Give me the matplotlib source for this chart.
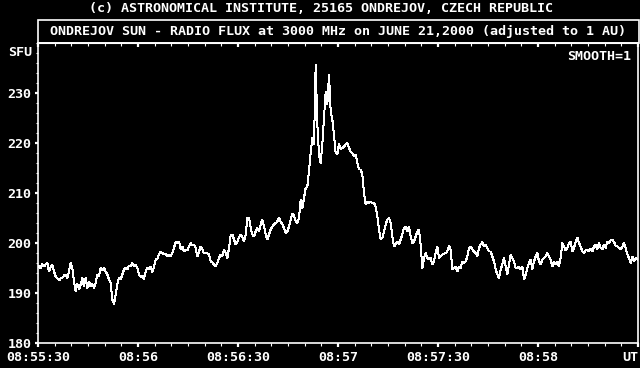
import numpy as np
import matplotlib
matplotlib.use("Agg")
import matplotlib.pyplot as plt
from matplotlib.patches import Rectangle
from matplotlib.ticker import MultipleLocator

# ---- data (SFU), sampled every 0.5 s starting 0.3 s after 08:55:30 ----
flux_1 = [195.3, 195.0, 195.8, 195.3, 195.7, 196.0, 194.3, 195.1, 195.7, 194.3,
          193.3, 193.0, 192.5, 192.9, 193.0, 193.5, 193.7, 193.0, 194.3, 196.0,
          195.0, 192.3, 190.3, 191.9, 190.7, 191.7, 193.0, 191.3, 193.1, 191.0,
          192.3, 191.3, 191.8, 191.0, 192.0, 193.7, 193.3, 195.0, 194.5, 195.0,
          194.3, 193.7, 192.7, 192.0, 188.7, 187.8, 189.7, 191.7, 193.0, 192.7,
          193.7, 194.7, 195.1, 194.7, 195.5, 195.3, 196.0, 195.3, 195.7, 195.0]
flux_2 = [193.7, 193.2, 193.5, 192.8, 194.3, 195.0, 194.7, 195.3, 194.1, 195.3,
          196.7, 196.8, 197.7, 198.3, 198.0, 197.7, 197.9, 197.3, 197.7, 197.3,
          198.0, 199.0, 200.3, 200.0, 200.3, 198.7, 199.3, 198.3, 198.7, 198.5,
          199.3, 200.0, 199.5, 199.7, 199.0, 197.3, 198.3, 199.3, 198.7, 197.9,
          198.0, 197.9, 197.7, 196.3, 196.1, 195.7, 195.3, 196.0, 197.0, 197.7,
          197.3, 198.7, 198.0, 197.0, 199.0, 201.5, 201.7, 200.7, 199.7, 200.3]
flux_3 = [201.1, 201.7, 201.1, 200.3, 201.7, 205.0, 205.1, 203.0, 201.7, 201.3,
          202.3, 203.0, 202.3, 203.7, 204.7, 203.3, 201.7, 200.7, 201.7, 202.7,
          203.3, 203.7, 204.0, 204.3, 205.1, 204.3, 203.7, 203.0, 202.0, 202.3,
          203.3, 204.7, 205.8, 205.5, 204.3, 204.0, 205.0, 208.7, 207.0, 209.0,
          211.0, 211.3, 214.3, 218.0, 221.0, 219.7, 235.7, 223.7, 217.7, 216.0,
          219.7, 225.0, 230.3, 227.7, 233.7, 226.3, 224.7, 221.7, 218.0, 217.7]
flux_4 = [219.9, 218.7, 219.0, 219.3, 219.7, 220.0, 219.0, 218.3, 218.0, 217.3,
          217.7, 216.0, 214.7, 214.7, 213.7, 210.0, 207.7, 208.3, 208.0, 208.3,
          208.0, 208.0, 207.3, 205.3, 202.7, 200.7, 201.0, 202.3, 203.7, 204.7,
          205.0, 204.0, 201.3, 199.3, 199.7, 200.3, 199.7, 200.7, 201.7, 203.0,
          203.3, 202.3, 203.3, 201.3, 200.0, 200.3, 201.3, 202.3, 202.7, 199.7,
          195.0, 197.0, 198.0, 197.0, 196.7, 197.0, 195.7, 196.3, 198.0, 199.3]
flux_5 = [197.0, 197.3, 197.7, 197.8, 198.0, 198.3, 199.5, 198.7, 194.7, 195.0,
          195.3, 194.3, 195.3, 195.0, 196.3, 196.0, 196.3, 197.3, 199.0, 199.3,
          198.7, 198.3, 198.0, 197.3, 199.0, 199.7, 200.2, 199.3, 199.7, 199.0,
          198.3, 198.3, 197.3, 196.3, 194.7, 193.7, 193.0, 194.7, 195.7, 197.0,
          195.3, 193.7, 195.7, 197.7, 197.0, 196.3, 195.0, 195.0, 195.3, 194.7,
          195.3, 192.7, 193.7, 195.0, 196.0, 196.7, 194.7, 196.3, 197.3, 198.0]
flux_6 = [196.3, 195.7, 196.7, 197.0, 197.3, 198.0, 197.3, 196.7, 195.3, 196.3,
          195.7, 196.3, 195.3, 197.0, 200.0, 199.3, 198.5, 199.0, 200.0, 200.3,
          198.3, 199.0, 200.3, 201.1, 200.0, 199.3, 198.3, 198.0, 198.5, 198.7,
          198.3, 198.9, 198.3, 199.3, 199.7, 198.7, 200.0, 199.0, 198.7, 199.7,
          199.0, 200.3, 200.0, 200.5, 200.7, 200.2, 199.5, 199.3, 199.0, 198.7,
          199.3, 200.0, 199.0, 197.7, 197.0, 196.0, 197.3, 196.3, 197.0, 196.7]

sample_start_s = 0.3
sample_step_s = 0.5
tick_pos_s = [0, 30, 60, 90, 120, 150, 180]
tick_labels = ["08:55:30", "08:56", "08:56:30", "08:57", "08:57:30", "08:58", "UT"]
y_ticks = [180, 190, 200, 210, 220, 230]

flux = np.array(flux_1 + flux_2 + flux_3 + flux_4 + flux_5 + flux_6)
t = sample_start_s + sample_step_s * np.arange(len(flux))

W, H = 640, 368
FONT = "DejaVu Sans Mono"
FS = 9.6
plt.rcParams["font.family"] = [FONT]

fig = plt.figure(figsize=(W / 100, H / 100), dpi=100, facecolor="black")

L, R, T, B = 38, 638, 43, 343
ax = fig.add_axes([L / W, (H - B) / H, (R - L) / W, (B - T) / H], facecolor="black")
ax.plot(t, flux, color="white", lw=0.72, antialiased=False)
ax.set_xlim(0, 180)
ax.set_ylim(180, 240)

for s in ax.spines.values():
    s.set_color("white")
    s.set_linewidth(1.2)

ax.set_yticks(y_ticks)
ax.set_yticklabels([str(v) for v in y_ticks])
ax.yaxis.set_minor_locator(MultipleLocator(2))
ax.tick_params(axis="y", which="major", direction="out", length=2.5, width=1.6,
               colors="white", labelsize=FS, pad=2)
ax.tick_params(axis="y", which="minor", direction="out", length=1.5, width=0.8,
               colors="white")

ax.set_xticks(tick_pos_s)
ax.set_xticklabels(tick_labels)
ax.xaxis.set_minor_locator(MultipleLocator(5))
ax.tick_params(axis="x", which="major", direction="out", length=3, width=1.6,
               colors="white", labelsize=FS, pad=3, top=True)
ax.tick_params(axis="x", which="minor", direction="out", length=2.2, width=0.8,
               colors="white", top=True)
for lab in ax.get_xticklabels():
    lab.set_fontweight("bold")
ax.get_xticklabels()[-1].set_ha("right")
for lab in ax.get_yticklabels():
    lab.set_fontweight("bold")

# top ticks point inward
ax2 = ax.secondary_xaxis("top")
ax2.set_xticks(tick_pos_s)
ax2.xaxis.set_minor_locator(MultipleLocator(5))
ax2.tick_params(axis="x", which="major", direction="in", length=3, width=1.6,
                colors="white", labeltop=False)
ax2.tick_params(axis="x", which="minor", direction="in", length=2.2, width=0.8,
                colors="white")
ax2.spines["top"].set_color("white")
ax.tick_params(axis="x", which="both", top=False)

# title box
fig.patches.append(Rectangle((L / W, (H - T) / H), (639 - L) / W, (T - 20) / H,
                             transform=fig.transFigure, fill=False,
                             edgecolor="white", lw=1.2))
fig.text(321 / W, 1 - 8 / H,
         "(c) ASTRONOMICAL INSTITUTE, 25165 ONDREJOV, CZECH REPUBLIC",
         color="white", fontsize=FS, fontweight="bold", ha="center", va="center")
fig.text(338.5 / W, 1 - 31 / H,
         "ONDREJOV SUN - RADIO FLUX at 3000 MHz on JUNE 21,2000 (adjusted to 1 AU)",
         color="white", fontsize=FS, fontweight="bold", ha="center", va="center")
fig.text(631 / W, 1 - 57 / H, "SMOOTH=1", color="white", fontsize=FS,
         fontweight="bold", ha="right", va="center")
fig.text(32 / W, 1 - 52 / H, "SFU", color="white", fontsize=FS,
         fontweight="bold", ha="right", va="center")

fig.savefig("out.png", dpi=100, facecolor="black")
